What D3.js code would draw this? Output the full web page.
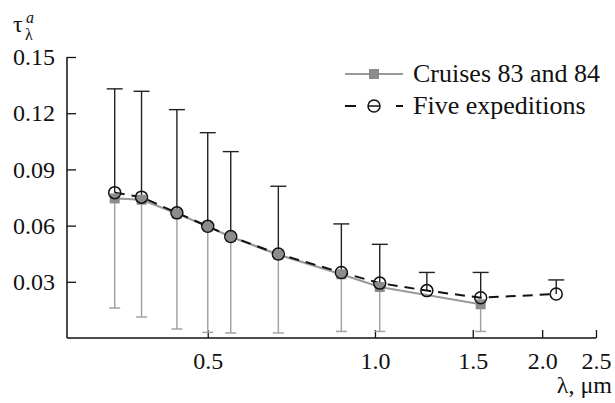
<!DOCTYPE html>
<html>
<head>
<meta charset="utf-8">
<script src="https://cdn.jsdelivr.net/npm/d3@7"></script>
<style>
    body { margin: 0; background: #fff; }
    svg text { font-family: "Times New Roman", Times, "Liberation Serif", "DejaVu Serif", serif !important; fill: #111; }
</style>
</head>
<body>
<svg width="615" height="403"></svg>
<script>
// wavelengths, um
var wavesFive = [0.34, 0.38, 0.44, 0.50, 0.55, 0.67, 0.87, 1.02, 1.24, 1.55, 2.12];
var tauFive = [0.0776, 0.0752, 0.0668, 0.0596, 0.0542, 0.0448, 0.0350, 0.0293, 0.0253, 0.0215, 0.0235];
var upperFive = [0.1330, 0.1317, 0.1219, 0.1096, 0.0995, 0.0810, 0.0609, 0.0500, 0.0350, 0.0350, 0.0310];

var wavesCruise = [0.34, 0.38, 0.44, 0.50, 0.55, 0.67, 0.87, 1.02, 1.55];
var tauCruise = [0.0745, 0.0738, 0.0665, 0.0595, 0.0540, 0.0445, 0.0340, 0.0272, 0.0180];
var lowerCruise = [0.0160, 0.0112, 0.0048, 0.0030, 0.0027, 0.0027, 0.0035, 0.0035, 0.0035];

var xTicks = [0.5, 1.0, 1.5, 2.0, 2.5];
var yTicks = [0.03, 0.06, 0.09, 0.12, 0.15];

var svg = d3.select("svg");

var x = d3.scaleLog([0.279, 2.5], [67, 596]);
var y = d3.scaleLinear([0, 0.15], [338, 57]);

var five = wavesFive.map(function(w, i) {
    return { w: w, v: tauFive[i], hi: upperFive[i] };
});
var cruise = wavesCruise.map(function(w, i) {
    return { w: w, v: tauCruise[i], lo: lowerCruise[i] };
});

// Axes
var xAxis = d3.axisBottom(x).tickValues(xTicks).tickFormat(d3.format(".1f"))
    .tickSizeInner(-8).tickSizeOuter(0).tickPadding(14);
var yAxis = d3.axisLeft(y).tickValues(yTicks).tickFormat(d3.format(".2f"))
    .tickSizeInner(-9).tickSizeOuter(0).tickPadding(12);

var gx = svg.append("g")
    .attr("transform", "translate(0, 338)")
    .call(xAxis);
gx.attr("font-family", null);
gx.select(".domain").attr("d", "M67,0H596").attr("stroke", "#111").attr("stroke-width", 1.5);
gx.selectAll(".tick line").attr("stroke", "#111").attr("stroke-width", 1.3);
gx.selectAll(".tick text")
    .attr("font-size", 24)
    .attr("fill", "#111")
    .attr("dy", "0.71em");

var gy = svg.append("g")
    .attr("transform", "translate(67, 0)")
    .call(yAxis);
gy.attr("font-family", null);
gy.select(".domain").attr("d", "M0,57V338").attr("stroke", "#111").attr("stroke-width", 1.5);
gy.selectAll(".tick line").attr("stroke", "#111").attr("stroke-width", 1.3);
gy.selectAll(".tick text")
    .attr("font-size", 24)
    .attr("fill", "#111");

// Grey error bars (down)
var gb = svg.append("g").attr("stroke", "#a3a3a3").attr("stroke-width", 1.5);
gb.selectAll("line.bar").data(cruise).enter().append("line")
    .attr("x1", function(d) { return x(d.w); })
    .attr("x2", function(d) { return x(d.w); })
    .attr("y1", function(d) { return y(d.v); })
    .attr("y2", function(d) { return y(d.lo); });
gb.selectAll("line.cap").data(cruise).enter().append("line")
    .attr("x1", function(d) { return x(d.w) - 5.5; })
    .attr("x2", function(d) { return x(d.w) + 5.5; })
    .attr("y1", function(d) { return y(d.lo); })
    .attr("y2", function(d) { return y(d.lo); });

// Black error bars (up)
var bb = svg.append("g").attr("stroke", "#222").attr("stroke-width", 1.4);
bb.selectAll("line.bar").data(five).enter().append("line")
    .attr("x1", function(d) { return x(d.w); })
    .attr("x2", function(d) { return x(d.w); })
    .attr("y1", function(d) { return y(d.v); })
    .attr("y2", function(d) { return y(d.hi); });
bb.selectAll("line.cap").data(five).enter().append("line")
    .attr("x1", function(d) { return x(d.w) - 8; })
    .attr("x2", function(d) { return x(d.w) + 8; })
    .attr("y1", function(d) { return y(d.hi); })
    .attr("y2", function(d) { return y(d.hi); });

var line = d3.line()
    .x(function(d) { return x(d.w); })
    .y(function(d) { return y(d.v); });

svg.append("path")
    .datum(cruise)
    .attr("d", line)
    .attr("fill", "none")
    .attr("stroke", "#9a9a9a")
    .attr("stroke-width", 2.2);

svg.append("path")
    .datum(five)
    .attr("d", line)
    .attr("fill", "none")
    .attr("stroke", "#111")
    .attr("stroke-width", 2)
    .attr("stroke-dasharray", "10,7");

// Markers
svg.append("g").selectAll("rect").data(cruise).enter().append("rect")
    .attr("x", function(d) { return x(d.w) - 5; })
    .attr("y", function(d) { return y(d.v) - 5; })
    .attr("width", 10)
    .attr("height", 10)
    .attr("fill", "#8c8c8c");

svg.append("g").selectAll("circle").data(five).enter().append("circle")
    .attr("cx", function(d) { return x(d.w); })
    .attr("cy", function(d) { return y(d.v); })
    .attr("r", 6)
    .attr("fill", "none")
    .attr("stroke", "#111")
    .attr("stroke-width", 1.5);

// Legend
var lg = svg.append("g");
lg.append("line").attr("x1", 345).attr("x2", 403).attr("y1", 74).attr("y2", 74)
    .attr("stroke", "#9a9a9a").attr("stroke-width", 2.2);
lg.append("rect").attr("x", 369).attr("y", 69).attr("width", 10).attr("height", 10).attr("fill", "#8c8c8c");
lg.append("text").attr("x", 413).attr("y", 82).attr("font-size", 26).text("Cruises 83 and 84");

lg.append("line").attr("x1", 345).attr("x2", 356).attr("y1", 106).attr("y2", 106)
    .attr("stroke", "#111").attr("stroke-width", 2);
lg.append("line").attr("x1", 396).attr("x2", 403).attr("y1", 106).attr("y2", 106)
    .attr("stroke", "#111").attr("stroke-width", 2);
lg.append("circle").attr("cx", 374).attr("cy", 106).attr("r", 6)
    .attr("fill", "none").attr("stroke", "#111").attr("stroke-width", 1.5);
lg.append("line").attr("x1", 368).attr("x2", 380).attr("y1", 106).attr("y2", 106)
    .attr("stroke", "#111").attr("stroke-width", 1.5);
lg.append("text").attr("x", 413).attr("y", 114).attr("font-size", 26).text("Five expeditions");

// Axis titles
var yt = svg.append("text").attr("x", 13).attr("y", 32).attr("font-size", 24);
yt.append("tspan").text("τ");
yt.append("tspan").attr("x", 26).attr("y", 23).attr("font-size", 16).attr("font-style", "italic").text("a");
yt.append("tspan").attr("x", 25).attr("y", 40).attr("font-size", 16).text("λ");

svg.append("text")
    .attr("x", 612)
    .attr("y", 393)
    .attr("text-anchor", "end")
    .attr("font-size", 24)
    .text("λ, μm");
</script>
</body>
</html>
